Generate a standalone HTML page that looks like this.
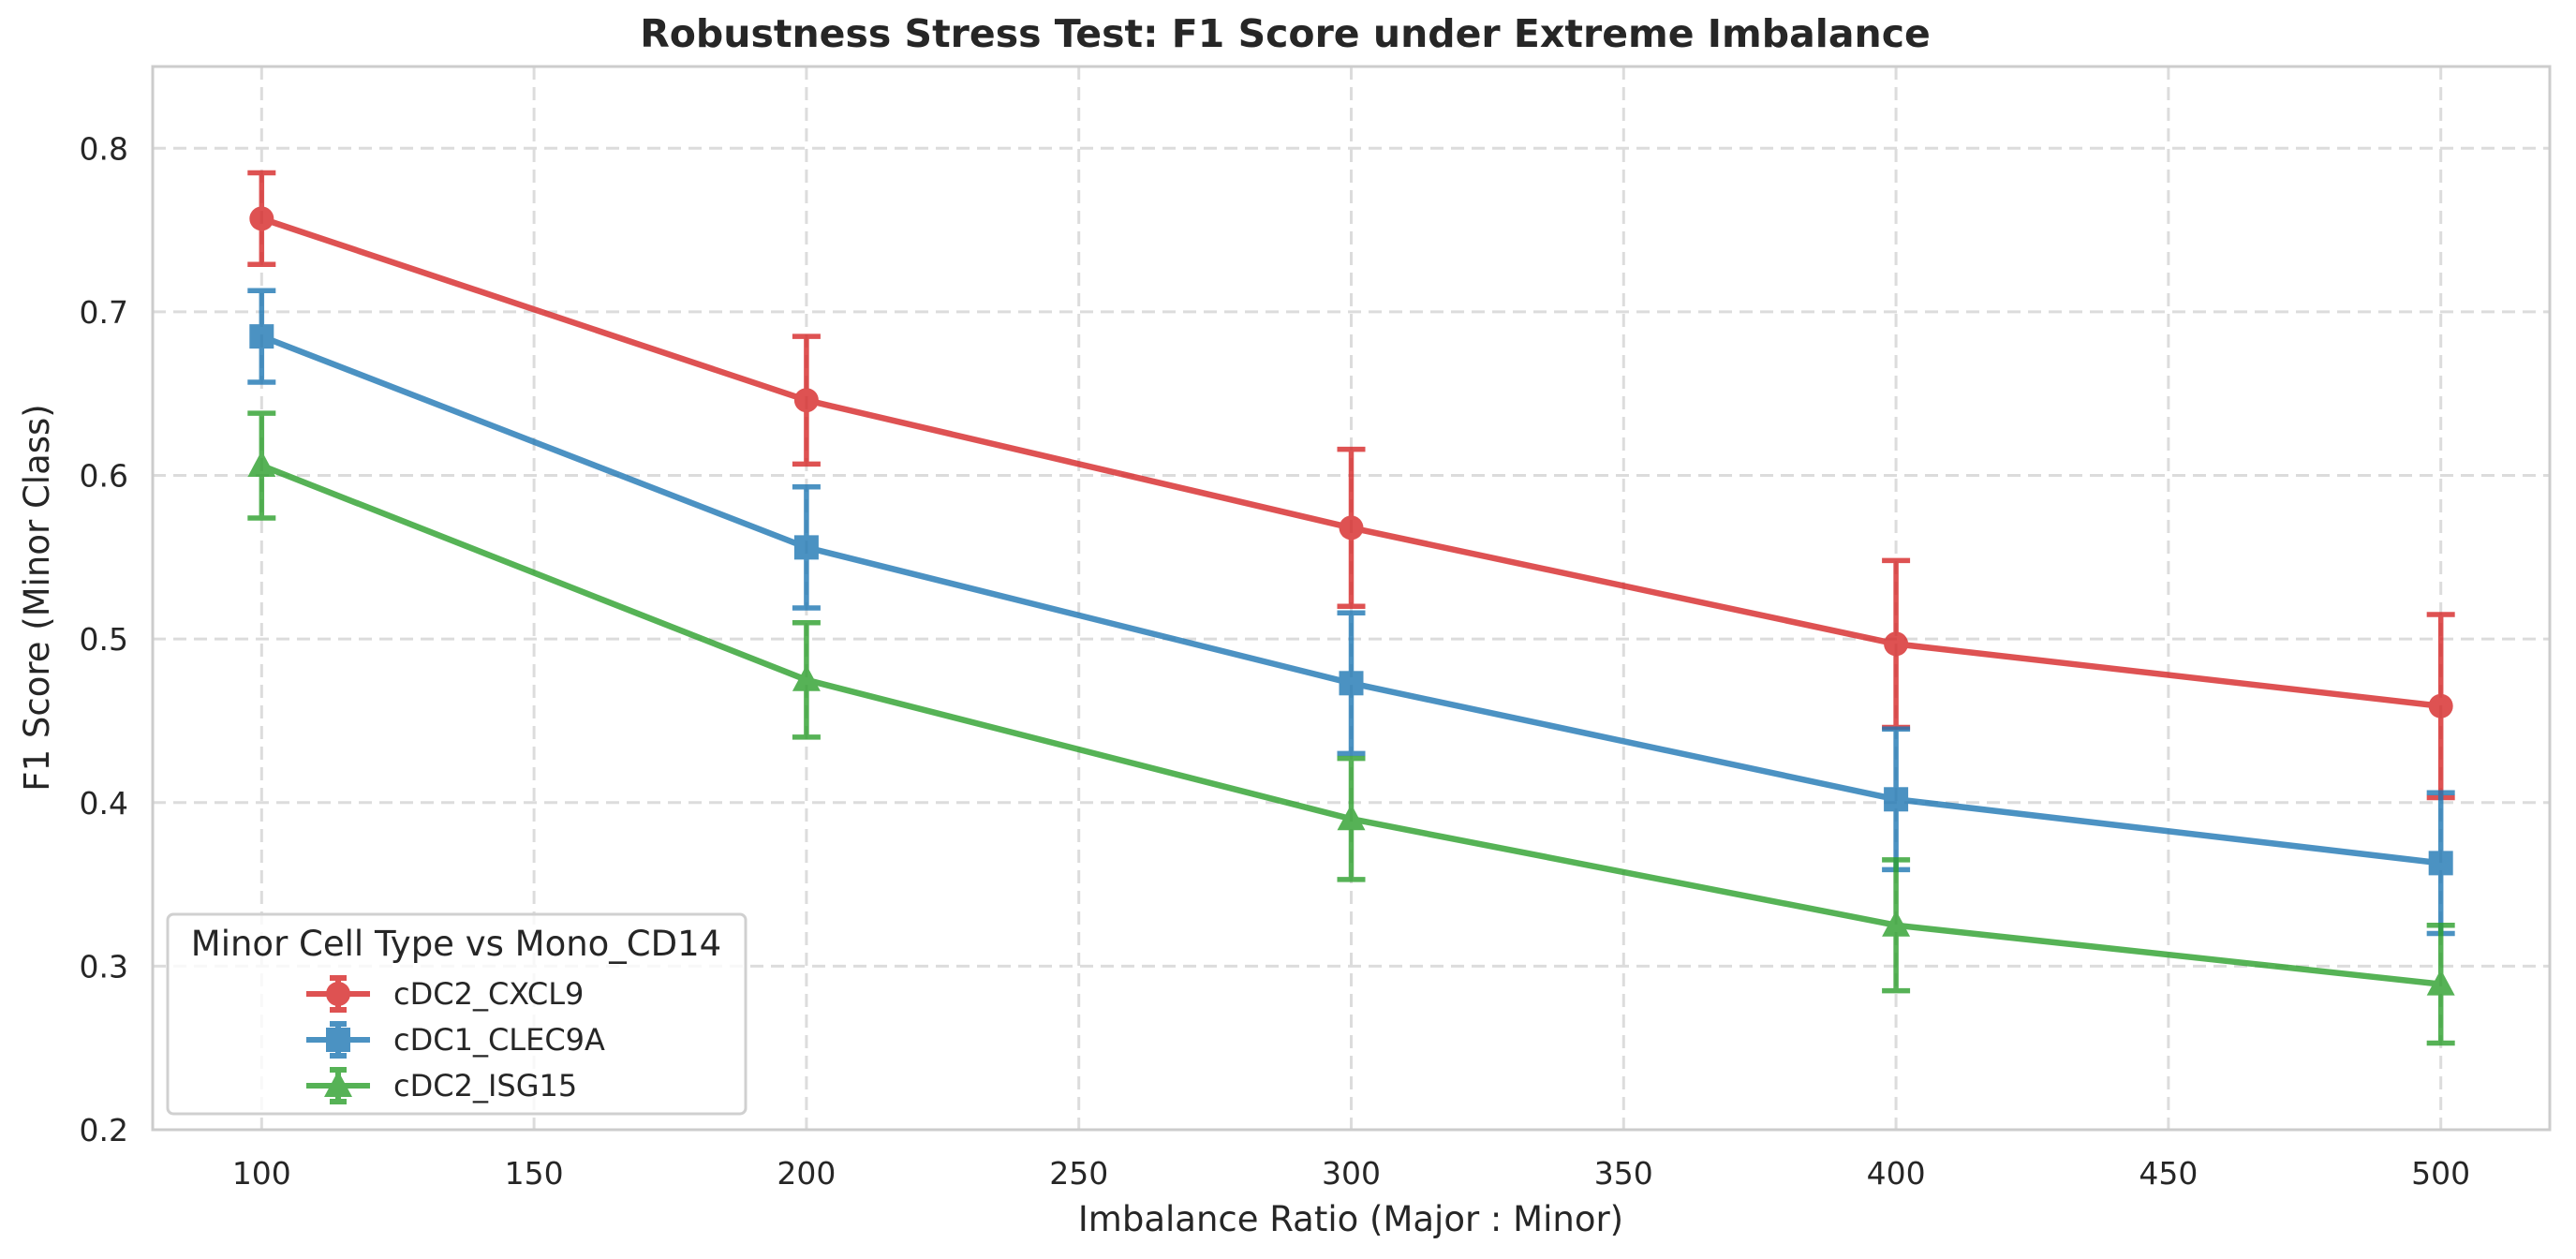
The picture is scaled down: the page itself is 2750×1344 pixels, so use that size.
<!DOCTYPE html>
<html><head><meta charset="utf-8"><style>
body{margin:0;background:#fff}
svg text{font-family:"DejaVu Sans","Liberation Sans",sans-serif;fill:#262626}
</style></head><body>
<svg id="chart" width="2750" height="1339" xmlns="http://www.w3.org/2000/svg">
<rect width="2750" height="1339" fill="#fff"/>
<g id="grid"></g>
<g id="series"></g>
<rect x="163" y="71" width="2559" height="1135" fill="none" stroke="#cccccc" stroke-width="3"/>
<g id="ticks"></g>
<text x="1372" y="50" text-anchor="middle" font-size="41" font-weight="bold">Robustness Stress Test: F1 Score under Extreme Imbalance</text>
<text x="1442" y="1314" text-anchor="middle" font-size="37">Imbalance Ratio (Major : Minor)</text>
<text transform="translate(52,638) rotate(-90)" text-anchor="middle" font-size="37">F1 Score (Minor Class)</text>
<g>
<rect x="179" y="976" width="617" height="213" rx="6" fill="#fff" fill-opacity="0.8" stroke="#d0d0d0" stroke-width="3"/>
<text x="487" y="1020" text-anchor="middle" font-size="37">Minor Cell Type vs Mono_CD14</text>
<g id="legend-items"></g>
</g>
</svg>
<script>
const xTicks=[100,150,200,250,300,350,400,450,500];
const yTicks=[0.2,0.3,0.4,0.5,0.6,0.7,0.8];
const ratios=[100,200,300,400,500];
const seriesNames=["cDC2_CXCL9","cDC1_CLEC9A","cDC2_ISG15"];
const cxcl9=[0.757,0.646,0.568,0.497,0.459];
const cxcl9Err=[0.028,0.039,0.048,0.051,0.056];
const clec9a=[0.685,0.556,0.473,0.402,0.363];
const clec9aErr=[0.028,0.037,0.043,0.043,0.043];
const isg15=[0.606,0.475,0.390,0.325,0.289];
const isg15Err=[0.032,0.035,0.037,0.040,0.036];

const L=163,R=2722,T=71,B=1206,X0=80,X1=520,Y0=0.2,Y1=0.85;
const xs=v=>L+(v-X0)/(X1-X0)*(R-L);
const ys=v=>B-(v-Y0)/(Y1-Y0)*(B-T);
const NS="http://www.w3.org/2000/svg";
function mk(tag,attrs,parent){const e=document.createElementNS(NS,tag);for(const k in attrs)e.setAttribute(k,attrs[k]);parent.appendChild(e);return e;}
const grid=document.getElementById('grid'),ticks=document.getElementById('ticks');
xTicks.forEach(t=>{
 const l=mk('line',{x1:xs(t),x2:xs(t),y1:T,y2:B,stroke:'#dcdcdc','stroke-width':3,'stroke-dasharray':'14,8'},grid);
 
 
 const tx=mk('text',{x:xs(t),y:1264,'text-anchor':'middle','font-size':33},ticks);
 tx.textContent=t;
 
 
});
yTicks.forEach(t=>{
 const l=mk('line',{x1:L,x2:R,y1:ys(t),y2:ys(t),stroke:'#dcdcdc','stroke-width':3,'stroke-dasharray':'14,8'},grid);
 
 
 const tx=mk('text',{x:137,y:ys(t)+12,'text-anchor':'end','font-size':33},ticks);
 tx.textContent=t.toFixed(1);
 
 
});
const colors=['#d62728','#1f77b4','#2ca02c'];
const vals=[cxcl9,clec9a,isg15],errs=[cxcl9Err,clec9aErr,isg15Err];
function marker(kind,cx,cy,col,g,s){
 let m;
 if(kind===0)m=mk('circle',{cx:cx,cy:cy,r:13*s,fill:col},g);
 else if(kind===1)m=mk('rect',{x:cx-13*s,y:cy-13*s,width:26*s,height:26*s,fill:col},g);
 else m=mk('polygon',{points:`${cx},${cy-16*s} ${cx+15*s},${cy+12*s} ${cx-15*s},${cy+12*s}`,fill:col},g);
 
 
}
const sg=document.getElementById('series');
vals.forEach((v,i)=>{
 const g=mk('g',{opacity:0.8},sg);
 
 
 const p=mk('polyline',{points:ratios.map((r,j)=>xs(r)+','+ys(v[j])).join(' '),fill:'none',stroke:colors[i],'stroke-width':6.5,'stroke-linejoin':'round'},g);
 
 
 ratios.forEach((r,j)=>{
  const x=xs(r),y1=ys(v[j]+errs[i][j]),y2=ys(v[j]-errs[i][j]);
  const e=mk('path',{d:`M${x},${y1}V${y2}M${x-15},${y1}H${x+15}M${x-15},${y2}H${x+15}`,stroke:colors[i],'stroke-width':5.5,fill:'none'},g);
  
  
  marker(i,x,ys(v[j]),colors[i],g,1);
 });
});
const li=document.getElementById('legend-items');
seriesNames.forEach((n,i)=>{
 const y=1061+i*49;
 const g=mk('g',{opacity:0.8},li);
 
 
 mk('path',{d:`M327,${y}H395M361,${y-17}V${y+17}M352,${y-17}H370M352,${y+17}H370`,stroke:colors[i],'stroke-width':6,fill:'none'},g);
 marker(i,361,y,colors[i],g,1);
 const t=mk('text',{x:420,y:y+11,'font-size':32},li);
 t.textContent=n;
 
 
});
</script>
</body></html>
